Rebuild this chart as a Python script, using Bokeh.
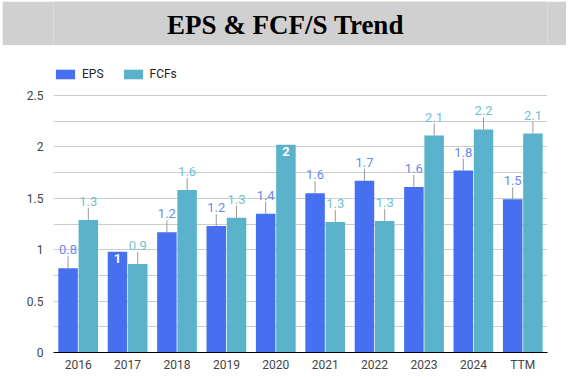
from bokeh.plotting import figure
from bokeh.models import (ColumnDataSource, Range1d, FactorRange, Legend, LegendItem,
                          FixedTicker, LabelSet, Column)
from bokeh.transform import dodge
from bokeh.core.properties import value
from bokeh.embed import file_html
from bokeh.resources import INLINE

# ---- data ----
categories = ["2016", "2017", "2018", "2019", "2020", "2021", "2022", "2023", "2024", "TTM"]
eps = [0.82, 0.98, 1.17, 1.23, 1.35, 1.55, 1.67, 1.61, 1.77, 1.49]
fcfs = [1.29, 0.86, 1.58, 1.31, 2.02, 1.27, 1.28, 2.11, 2.17, 2.13]
series_names = ["EPS", "FCFs"]
y_ticks = [0, 0.5, 1, 1.5, 2, 2.5]
y_minor_ticks = [0.25, 0.75, 1.25, 1.75, 2.25]
title_text = "EPS & FCF/S Trend"

# ---- styles ----
EPS_COLOR = "#4670ef"
FCF_COLOR = "#5bb3cb"
EPS_LABEL = "#6a8aef"
FCF_LABEL = "#72bfd5"
FONT = "Roboto"

FRAME_H = 285          # px, frame from legend top to baseline
PX_PER_UNIT = 102.8    # px per data unit
Y_TOP = FRAME_H / PX_PER_UNIT


def fmt(v):
    return f"{round(v, 1):g}"


def split(vals):
    out_x, out_y, out_t, in_x, in_y, in_t = [], [], [], [], [], []
    for c, v in zip(categories, vals):
        t = fmt(v)
        if "." in t:
            out_x.append(c); out_y.append(v); out_t.append(t)
        else:
            in_x.append(c); in_y.append(v); in_t.append(t)
    return out_x, out_y, out_t, in_x, in_y, in_t


src = ColumnDataSource(dict(cat=categories, eps=eps, fcfs=fcfs))

# ---- title figure ----
tf = figure(width=564, height=44, output_backend="svg", toolbar_location=None,
            x_range=Range1d(0, 1), y_range=Range1d(0, 1), min_border=0)
tf.axis.visible = False
tf.grid.visible = False
tf.outline_line_color = None
tf.background_fill_color = "#d0d0d0"
tf.border_fill_color = "#d0d0d0"
tf.text(x=[0.5], y=[0.5], text=[title_text], text_align="center", text_baseline="middle",
        x_offset=-15, y_offset=1,
        text_font=value("Liberation Serif"), text_font_style="bold",
        text_font_size="27px", text_color="#000000")

# ---- main figure ----
p = figure(frame_width=494, frame_height=FRAME_H, output_backend="svg", toolbar_location=None,
           x_range=FactorRange(*categories, range_padding=0), y_range=Range1d(0, Y_TOP),
           min_border_left=51, min_border_right=19, min_border_top=22, min_border_bottom=10)
p.outline_line_color = None
p.background_fill_color = "white"
p.border_fill_color = "white"

yt = FixedTicker(ticks=y_ticks, minor_ticks=y_minor_ticks)
p.yaxis.ticker = yt
p.ygrid.ticker = yt
p.ygrid.grid_line_color = "#cccccc"
p.ygrid.minor_grid_line_color = "#cccccc"
p.xgrid.grid_line_color = None
p.yaxis.axis_line_color = None
p.yaxis.major_tick_line_color = None
p.yaxis.minor_tick_line_color = None
p.yaxis.major_tick_out = 0
p.yaxis.minor_tick_out = 0
p.yaxis.major_label_standoff = 10
p.xaxis.axis_line_color = "#000000"
p.xaxis.major_tick_line_color = None
p.xaxis.minor_tick_line_color = None
p.xaxis.major_tick_out = 0
p.xaxis.minor_tick_out = 0
p.xaxis.major_label_standoff = 5
for ax in (p.xaxis, p.yaxis):
    ax.major_label_text_font = FONT
    ax.major_label_text_font_size = "12px"
    ax.major_label_text_color = "#444444"

r1 = p.vbar(x=dodge("cat", -0.205, range=p.x_range), top="eps", width=0.395, source=src,
            fill_color=EPS_COLOR, line_color=None)
r2 = p.vbar(x=dodge("cat", 0.205, range=p.x_range), top="fcfs", width=0.395, source=src,
            fill_color=FCF_COLOR, line_color=None)

STEM = 12 / PX_PER_UNIT  # 12px stem in data units

for vals, off, lc in ((eps, -0.205, EPS_LABEL), (fcfs, 0.205, FCF_LABEL)):
    ox, oy, ot, ix, iy, it = split(vals)
    s_out = ColumnDataSource(dict(x=ox, y=oy, y1=[v + STEM for v in oy], t=ot))
    p.segment(x0=dodge("x", off, range=p.x_range), y0="y",
              x1=dodge("x", off, range=p.x_range), y1="y1",
              source=s_out, line_color="#999999", line_width=1)
    p.add_layout(LabelSet(x=dodge("x", off, range=p.x_range), y="y", text="t", source=s_out,
                          y_offset=14, text_align="center", text_baseline="alphabetic",
                          text_font=value(FONT), text_font_size="13px", text_color=lc))
    s_in = ColumnDataSource(dict(x=ix, y=iy, t=it))
    p.add_layout(LabelSet(x=dodge("x", off, range=p.x_range), y="y", text="t", source=s_in,
                          y_offset=-2, text_align="center", text_baseline="top",
                          text_font=value(FONT), text_font_size="13px", text_font_style="bold",
                          text_color="white"))

legend = Legend(items=[LegendItem(label=series_names[0], renderers=[r1]),
                       LegendItem(label=series_names[1], renderers=[r2])],
                location="top_left", orientation="horizontal",
                glyph_width=24, glyph_height=12, label_standoff=5, spacing=17,
                padding=0, margin=0, border_line_color=None, background_fill_alpha=0,
                label_text_font=FONT, label_text_font_size="12px", label_text_color="#222222",
                label_height=12)
p.add_layout(legend, "center")

layout = Column(tf, p, spacing=0, margin=(1, 0, 0, 2))

open("out.html", "w").write(file_html(layout, INLINE))
